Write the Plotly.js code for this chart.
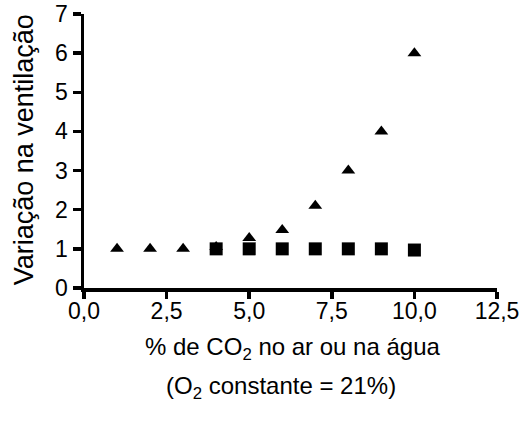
<!DOCTYPE html>
<html>
<head>
<meta charset="utf-8">
<script src="https://cdn.plot.ly/plotly-3.0.1.min.js"></script>
<style>html,body{margin:0;padding:0;background:#fff;}#chart{width:525px;height:421px;}</style>
</head>
<body>
<div id="chart"></div>
<script>
// Data
const triX = [1, 2, 3, 4, 5, 6, 7, 8, 9, 10];
const triY = [1.0, 1.0, 1.0, 1.05, 1.28, 1.48, 2.1, 3.0, 4.0, 6.0];
const sqX = [4, 5, 6, 7, 8, 9, 10];
const sqY = [1.0, 1.0, 1.0, 1.0, 1.0, 1.0, 0.97];
const xTickVals = [0, 2.5, 5, 7.5, 10, 12.5];
const xTickText = ["0,0", "2,5", "5,0", "7,5", "10,0", "12,5"];
const yTickVals = [0, 1, 2, 3, 4, 5, 6, 7];
const xTitleLine1 = "% de CO<sub>2</sub> no ar ou na água";
const xTitleLine2 = "(O<sub>2</sub> constante = 21%)";
const yTitle = "Variação na ventilação";

const font = "Liberation Sans, Arial, sans-serif";

const traces = [
  {x: sqX, y: sqY, type: "scatter", mode: "markers", cliponaxis: false,
   marker: {symbol: "square", size: 13, color: "#000"}},
  {x: triX, y: triY, type: "scatter", mode: "markers", cliponaxis: false,
   marker: {symbol: "triangle-up", size: 12, color: "#000"}}
];

const layout = {
  width: 525, height: 421,
  margin: {l: 84, r: 28, t: 14, b: 133},
  paper_bgcolor: "#fff", plot_bgcolor: "#fff",
  showlegend: false,
  font: {family: font, color: "#000", size: 23},
  xaxis: {
    range: [0, 12.5], tickvals: xTickVals, ticktext: xTickText,
    showline: true, linewidth: 3.5, linecolor: "#000",
    ticks: "outside", ticklen: 7, tickwidth: 3.5, tickcolor: "#000",
    showgrid: false, zeroline: false, ticklabelstandoff: -7,
    tickfont: {size: 23}
  },
  yaxis: {
    range: [0, 7], tickvals: yTickVals,
    showline: true, linewidth: 3.5, linecolor: "#000",
    ticks: "outside", ticklen: 8, tickwidth: 3.5, tickcolor: "#000",
    showgrid: false, zeroline: false,
    tickfont: {size: 23}
  },
  annotations: [
    {text: xTitleLine1, xref: "paper", yref: "paper", x: 0.505, y: -0.22,
     xanchor: "center", yanchor: "middle", showarrow: false, font: {size: 24}},
    {text: xTitleLine2, xref: "paper", yref: "paper", x: 0.478, y: -0.362,
     xanchor: "center", yanchor: "middle", showarrow: false, font: {size: 24}},
    {text: yTitle, xref: "paper", yref: "paper", x: -0.146, y: 0.505,
     xanchor: "center", yanchor: "middle", textangle: -90, showarrow: false, font: {size: 27}}
  ]
};

Plotly.newPlot("chart", traces, layout, {displayModeBar: false, staticPlot: true});
</script>
</body>
</html>
